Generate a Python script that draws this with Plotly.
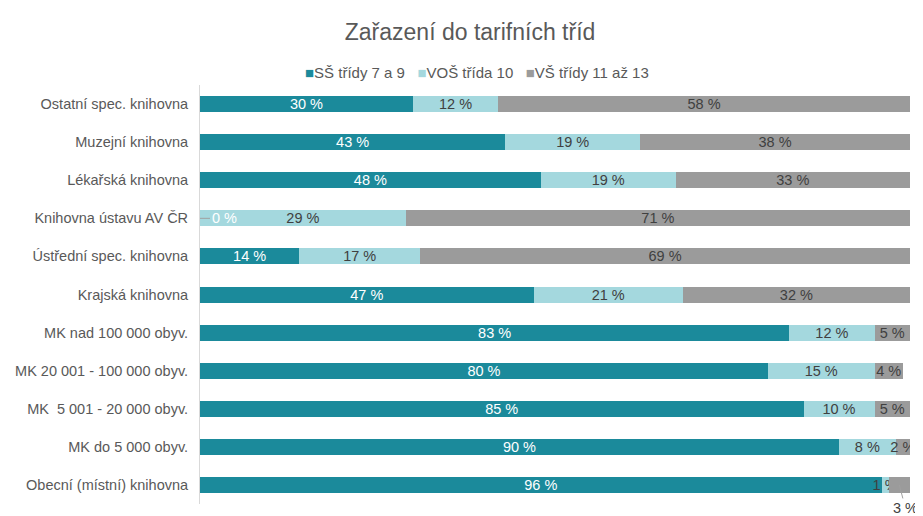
import plotly.graph_objects as go

categories = [
    "Ostatní spec. knihovna",
    "Muzejní knihovna",
    "Lékařská knihovna",
    "Knihovna ústavu AV ČR",
    "Ústřední spec. knihovna",
    "Krajská knihovna",
    "MK nad 100 000 obyv.",
    "MK 20 001 - 100 000 obyv.",
    "MK  5 001 - 20 000 obyv.",
    "MK do 5 000 obyv.",
    "Obecní (místní) knihovna",
]
ss = [30, 43, 48, 0, 14, 47, 83, 80, 85, 90, 96]
vos = [12, 19, 19, 29, 17, 21, 12, 15, 10, 8, 1]
vs = [58, 38, 33, 71, 69, 32, 5, 4, 5, 2, 3]

series = [
    ("SŠ třídy 7 a 9", ss, "#1B8A9B", "white"),
    ("VOŠ třída 10", vos, "#A4D8DE", "#404040"),
    ("VŠ třídy 11 až 13", vs, "#9B9B9B", "#404040"),
]
FONT = "Liberation Sans, Arial"

# labels drawn outside with a leader line
outside = {(0, 3), (2, 10)}

fig = go.Figure()
for si, (name, vals, color, tcolor) in enumerate(series):
    text = ["" if (si, i) in outside else f"{v} %" for i, v in enumerate(vals)]
    fig.add_trace(go.Bar(
        y=categories, x=vals, name=name, orientation="h",
        marker=dict(color=color, line=dict(width=0)),
        text=text, textposition="inside", insidetextanchor="middle",
        textangle=0, constraintext="none",
        textfont=dict(color=tcolor, size=14.5, family=FONT),
    ))

# 0 % label for Knihovna ústavu AV ČR
fig.add_annotation(
    x=ss[3], y=categories[3], text=f"{ss[3]} %", showarrow=True,
    arrowhead=0, arrowwidth=1, arrowcolor="#A0A0A0", ax=24, ay=0,
    font=dict(color="white", size=14.5, family=FONT),
)
# 3 % label for the last row
fig.add_annotation(
    x=ss[10] + vos[10] + vs[10] / 2, y=categories[10], text=f"{vs[10]} %",
    showarrow=True, arrowhead=0, arrowwidth=1, arrowcolor="#A0A0A0",
    ax=6, ay=23, font=dict(color="#404040", size=14.5, family=FONT),
)

# compact legend line, as in the original
legend_text = "   ".join(
    f"<span style='color:{c}'>■</span>{n}" for n, _, c, _ in series
)
fig.add_annotation(
    x=0.39, y=1.03, xref="paper", yref="paper", xanchor="center", yanchor="middle",
    text=legend_text, showarrow=False, font=dict(size=15, color="#595959", family=FONT),
)

fig.update_layout(
    barmode="stack",
    bargap=0.58,
    showlegend=False,
    width=915, height=508,
    margin=dict(l=192, r=13, t=77, b=12),
    plot_bgcolor="white", paper_bgcolor="white",
    font=dict(family=FONT, color="#595959", size=14.5),
    title=dict(text="Zařazení do tarifních tříd", x=0.505, xanchor="center",
               y=0.953, yanchor="middle", font=dict(size=23, color="#595959")),
    xaxis=dict(range=[0, 100], visible=False),
    yaxis=dict(autorange="reversed", showline=True, linecolor="#D9D9D9",
               showgrid=False, ticks="", ticklabelstandoff=8, automargin=False),
)

fig.write_html("out.html")
